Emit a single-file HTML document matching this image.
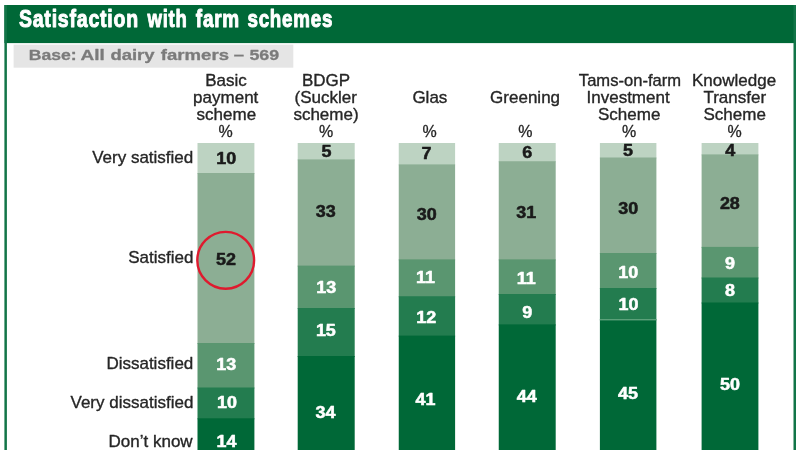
<!DOCTYPE html>
<html><head><meta charset="utf-8"><title>Satisfaction with farm schemes</title>
<style>
html,body{margin:0;padding:0;background:#fff;}
body{width:800px;height:450px;overflow:hidden;}
svg{display:block;font-family:"Liberation Sans",sans-serif;}
text{stroke-linejoin:round;}
</style></head><body>
<svg width="800" height="450" viewBox="0 0 800 450">
<rect x="0" y="0" width="800" height="450" fill="#fff"/>
<rect x="4.4" y="5" width="791.6" height="38.1" fill="#006837"/>
<rect x="4.4" y="5" width="2.5" height="446" fill="#127548"/>
<rect x="793.5" y="5" width="2.5" height="446" fill="#127548"/>
<rect x="13.6" y="44.6" width="279.7" height="23.1" fill="#e5e5e5"/>
<rect x="197.5" y="143" width="56.90" height="31.00" fill="#bdd3c2"/>
<rect x="197.5" y="173" width="56.90" height="171.00" fill="#8cae94"/>
<rect x="197.5" y="343" width="56.90" height="45.50" fill="#5a9670"/>
<rect x="197.5" y="387.5" width="56.90" height="31.80" fill="#237c4f"/>
<rect x="197.5" y="418.3" width="56.90" height="32.70" fill="#006837"/>
<rect x="297.7" y="143" width="57.00" height="17.40" fill="#bdd3c2"/>
<rect x="297.7" y="159.4" width="57.00" height="107.20" fill="#8cae94"/>
<rect x="297.7" y="265.6" width="57.00" height="43.40" fill="#5a9670"/>
<rect x="297.7" y="308" width="57.00" height="49.00" fill="#237c4f"/>
<rect x="297.7" y="356" width="57.00" height="95.00" fill="#006837"/>
<rect x="398.75" y="143" width="56.35" height="22.40" fill="#bdd3c2"/>
<rect x="398.75" y="164.4" width="56.35" height="96.00" fill="#8cae94"/>
<rect x="398.75" y="259.4" width="56.35" height="37.85" fill="#5a9670"/>
<rect x="398.75" y="296.25" width="56.35" height="40.35" fill="#237c4f"/>
<rect x="398.75" y="335.6" width="56.35" height="115.40" fill="#006837"/>
<rect x="498.75" y="143" width="56.95" height="19.25" fill="#bdd3c2"/>
<rect x="498.75" y="161.25" width="56.95" height="99.15" fill="#8cae94"/>
<rect x="498.75" y="259.4" width="56.95" height="35.60" fill="#5a9670"/>
<rect x="498.75" y="294" width="56.95" height="31.40" fill="#237c4f"/>
<rect x="498.75" y="324.4" width="56.95" height="126.60" fill="#006837"/>
<rect x="599.9" y="143" width="56.50" height="15.50" fill="#bdd3c2"/>
<rect x="599.9" y="157.5" width="56.50" height="96.50" fill="#8cae94"/>
<rect x="599.9" y="253" width="56.50" height="36.00" fill="#5a9670"/>
<rect x="599.9" y="288" width="56.50" height="32.30" fill="#237c4f"/>
<rect x="599.9" y="319.3" width="56.50" height="131.70" fill="#006837"/>
<rect x="701.6" y="143" width="56.80" height="12.40" fill="#bdd3c2"/>
<rect x="701.6" y="154.4" width="56.80" height="93.50" fill="#8cae94"/>
<rect x="701.6" y="246.9" width="56.80" height="31.60" fill="#5a9670"/>
<rect x="701.6" y="277.5" width="56.80" height="26.00" fill="#237c4f"/>
<rect x="701.6" y="302.5" width="56.80" height="148.50" fill="#006837"/>
<rect x="599.9" y="319.3" width="56.5" height="1" fill="#7fb795"/>
<text transform="translate(18.90,27.4) scale(0.8027,1)" font-size="24.3px" font-weight="bold" letter-spacing="1.0" fill="#fff" stroke="#fff" stroke-width="1.0">Satisfaction</text>
<text transform="translate(147.48,27.4) scale(0.7627,1)" font-size="24.3px" font-weight="bold" letter-spacing="1.0" fill="#fff" stroke="#fff" stroke-width="1.0">with</text>
<text transform="translate(195.80,27.4) scale(0.7799,1)" font-size="24.3px" font-weight="bold" letter-spacing="1.0" fill="#fff" stroke="#fff" stroke-width="1.0">farm</text>
<text transform="translate(247.41,27.4) scale(0.7734,1)" font-size="24.3px" font-weight="bold" letter-spacing="1.0" fill="#fff" stroke="#fff" stroke-width="1.0">schemes</text>
<text transform="translate(28.72,60.2) scale(1.1742,1)" font-size="15px" font-weight="bold" fill="#7b7b7b" stroke="#7b7b7b" stroke-width="0.3">Base:</text>
<text transform="translate(80.58,60.2) scale(1.2639,1)" font-size="15px" font-weight="bold" fill="#7b7b7b" stroke="#7b7b7b" stroke-width="0.3">All</text>
<text transform="translate(110.38,60.2) scale(1.2324,1)" font-size="15px" font-weight="bold" fill="#7b7b7b" stroke="#7b7b7b" stroke-width="0.3">dairy</text>
<text transform="translate(160.85,60.2) scale(1.2394,1)" font-size="15px" font-weight="bold" fill="#7b7b7b" stroke="#7b7b7b" stroke-width="0.3">farmers</text>
<text transform="translate(233.69,60.2) scale(1.2387,1)" font-size="15px" font-weight="bold" fill="#7b7b7b" stroke="#7b7b7b" stroke-width="0.3">–</text>
<text transform="translate(249.45,60.2) scale(1.1897,1)" font-size="15px" font-weight="bold" fill="#7b7b7b" stroke="#7b7b7b" stroke-width="0.3">569</text>
<text x="205.25" y="85.8" font-size="17px" fill="#262626" stroke="#262626" stroke-width="0.35">Basic</text>
<text x="193.12" y="102.6" font-size="17px" fill="#262626" stroke="#262626" stroke-width="0.35">payment</text>
<text x="196.62" y="119.55" font-size="17px" fill="#262626" stroke="#262626" stroke-width="0.35">scheme</text>
<text x="218.53" y="136.8" font-size="16px" fill="#262626" stroke="#262626" stroke-width="0.3">%</text>
<text x="301.88" y="85.5" font-size="17px" fill="#262626" stroke="#262626" stroke-width="0.35">BDGP</text>
<text x="294.52" y="102.7" font-size="17px" fill="#262626" stroke="#262626" stroke-width="0.35">(Suckler</text>
<text x="293.38" y="119.55" font-size="17px" fill="#262626" stroke="#262626" stroke-width="0.35">scheme)</text>
<text x="319.12" y="136.8" font-size="16px" fill="#262626" stroke="#262626" stroke-width="0.3">%</text>
<text x="412.38" y="103.3" font-size="17px" fill="#262626" stroke="#262626" stroke-width="0.35">Glas</text>
<text x="422.50" y="136.8" font-size="16px" fill="#262626" stroke="#262626" stroke-width="0.3">%</text>
<text x="490.12" y="103.3" font-size="17px" fill="#262626" stroke="#262626" stroke-width="0.35">Greening</text>
<text x="518.25" y="136.8" font-size="16px" fill="#262626" stroke="#262626" stroke-width="0.3">%</text>
<text transform="translate(578.86,85.55) scale(0.9754,1)" font-size="17px" fill="#262626" stroke="#262626" stroke-width="0.35">Tams-on-farm</text>
<text x="586.50" y="102.8" font-size="17px" fill="#262626" stroke="#262626" stroke-width="0.35">Investment</text>
<text x="598.00" y="119.89999999999999" font-size="17px" fill="#262626" stroke="#262626" stroke-width="0.35">Scheme</text>
<text x="621.92" y="136.8" font-size="16px" fill="#262626" stroke="#262626" stroke-width="0.3">%</text>
<text x="692.00" y="85.55" font-size="17px" fill="#262626" stroke="#262626" stroke-width="0.35">Knowledge</text>
<text x="703.38" y="102.8" font-size="17px" fill="#262626" stroke="#262626" stroke-width="0.35">Transfer</text>
<text x="703.50" y="119.89999999999999" font-size="17px" fill="#262626" stroke="#262626" stroke-width="0.35">Scheme</text>
<text x="727.50" y="136.8" font-size="16px" fill="#262626" stroke="#262626" stroke-width="0.3">%</text>
<text x="92.15" y="162.6" font-size="17px" fill="#262626" stroke="#262626" stroke-width="0.35">Very satisfied</text>
<text x="128.15" y="262.7" font-size="17px" fill="#262626" stroke="#262626" stroke-width="0.35">Satisfied</text>
<text x="106.40" y="369.3" font-size="17px" fill="#262626" stroke="#262626" stroke-width="0.35">Dissatisfied</text>
<text x="70.50" y="407.8" font-size="17px" fill="#262626" stroke="#262626" stroke-width="0.35">Very dissatisfied</text>
<text x="108.55" y="446.6" font-size="17px" fill="#262626" stroke="#262626" stroke-width="0.35">Don’t know</text>
<text transform="translate(216.34,163.6) scale(1.1500,1)" font-size="15.6px" font-weight="bold" fill="#1a1a1a" stroke="#1a1a1a" stroke-width="0.5">10</text>
<text transform="translate(216.08,264.6) scale(1.1500,1)" font-size="15.6px" font-weight="bold" fill="#1a1a1a" stroke="#1a1a1a" stroke-width="0.5">52</text>
<text transform="translate(216.34,370.0) scale(1.1500,1)" font-size="15.6px" font-weight="bold" fill="#fff" stroke="#fff" stroke-width="0.5">13</text>
<text transform="translate(216.97,408.1) scale(1.1500,1)" font-size="15.6px" font-weight="bold" fill="#fff" stroke="#fff" stroke-width="0.5">10</text>
<text transform="translate(216.51,447.1) scale(1.1500,1)" font-size="15.6px" font-weight="bold" fill="#fff" stroke="#fff" stroke-width="0.5">14</text>
<text transform="translate(321.47,156.85) scale(1.1500,1)" font-size="15.6px" font-weight="bold" fill="#1a1a1a" stroke="#1a1a1a" stroke-width="0.5">5</text>
<text transform="translate(315.85,216.85) scale(1.1500,1)" font-size="15.6px" font-weight="bold" fill="#1a1a1a" stroke="#1a1a1a" stroke-width="0.5">33</text>
<text transform="translate(316.34,293.1) scale(1.1500,1)" font-size="15.6px" font-weight="bold" fill="#fff" stroke="#fff" stroke-width="0.5">13</text>
<text transform="translate(315.90,336.20000000000005) scale(1.1500,1)" font-size="15.6px" font-weight="bold" fill="#fff" stroke="#fff" stroke-width="0.5">15</text>
<text transform="translate(315.56,417.6) scale(1.1500,1)" font-size="15.6px" font-weight="bold" fill="#fff" stroke="#fff" stroke-width="0.5">34</text>
<text transform="translate(421.47,159.35) scale(1.1500,1)" font-size="15.6px" font-weight="bold" fill="#1a1a1a" stroke="#1a1a1a" stroke-width="0.5">7</text>
<text transform="translate(416.85,220.1) scale(1.1500,1)" font-size="15.6px" font-weight="bold" fill="#1a1a1a" stroke="#1a1a1a" stroke-width="0.5">30</text>
<text transform="translate(416.10,283.1) scale(1.1500,1)" font-size="15.6px" font-weight="bold" fill="#fff" stroke="#fff" stroke-width="0.5">11</text>
<text transform="translate(416.34,323.1) scale(1.1500,1)" font-size="15.6px" font-weight="bold" fill="#fff" stroke="#fff" stroke-width="0.5">12</text>
<text transform="translate(415.41,405.0) scale(1.1500,1)" font-size="15.6px" font-weight="bold" fill="#fff" stroke="#fff" stroke-width="0.5">41</text>
<text transform="translate(522.36,158.1) scale(1.1500,1)" font-size="15.6px" font-weight="bold" fill="#1a1a1a" stroke="#1a1a1a" stroke-width="0.5">6</text>
<text transform="translate(516.33,218.35) scale(1.1500,1)" font-size="15.6px" font-weight="bold" fill="#1a1a1a" stroke="#1a1a1a" stroke-width="0.5">31</text>
<text transform="translate(516.73,284.35) scale(1.1500,1)" font-size="15.6px" font-weight="bold" fill="#fff" stroke="#fff" stroke-width="0.5">11</text>
<text transform="translate(522.36,318.1) scale(1.1500,1)" font-size="15.6px" font-weight="bold" fill="#fff" stroke="#fff" stroke-width="0.5">9</text>
<text transform="translate(516.81,401.85) scale(1.1500,1)" font-size="15.6px" font-weight="bold" fill="#fff" stroke="#fff" stroke-width="0.5">44</text>
<text transform="translate(623.09,156.2) scale(1.1500,1)" font-size="15.6px" font-weight="bold" fill="#1a1a1a" stroke="#1a1a1a" stroke-width="0.5">5</text>
<text transform="translate(618.33,213.6) scale(1.1500,1)" font-size="15.6px" font-weight="bold" fill="#1a1a1a" stroke="#1a1a1a" stroke-width="0.5">30</text>
<text transform="translate(618.17,277.6) scale(1.1500,1)" font-size="15.6px" font-weight="bold" fill="#fff" stroke="#fff" stroke-width="0.5">10</text>
<text transform="translate(618.49,310.0) scale(1.1500,1)" font-size="15.6px" font-weight="bold" fill="#fff" stroke="#fff" stroke-width="0.5">10</text>
<text transform="translate(618.08,398.6) scale(1.1500,1)" font-size="15.6px" font-weight="bold" fill="#fff" stroke="#fff" stroke-width="0.5">45</text>
<text transform="translate(725.27,155.85) scale(1.1500,1)" font-size="15.6px" font-weight="bold" fill="#1a1a1a" stroke="#1a1a1a" stroke-width="0.5">4</text>
<text transform="translate(719.88,208.6) scale(1.1500,1)" font-size="15.6px" font-weight="bold" fill="#1a1a1a" stroke="#1a1a1a" stroke-width="0.5">28</text>
<text transform="translate(725.11,268.6) scale(1.1500,1)" font-size="15.6px" font-weight="bold" fill="#fff" stroke="#fff" stroke-width="0.5">9</text>
<text transform="translate(724.97,296.20000000000005) scale(1.1500,1)" font-size="15.6px" font-weight="bold" fill="#fff" stroke="#fff" stroke-width="0.5">8</text>
<text transform="translate(720.08,390.0) scale(1.1500,1)" font-size="15.6px" font-weight="bold" fill="#fff" stroke="#fff" stroke-width="0.5">50</text>
<circle cx="225.7" cy="260.3" r="28.4" fill="none" stroke="#df1a2e" stroke-width="2.4"/>
</svg></body></html>
